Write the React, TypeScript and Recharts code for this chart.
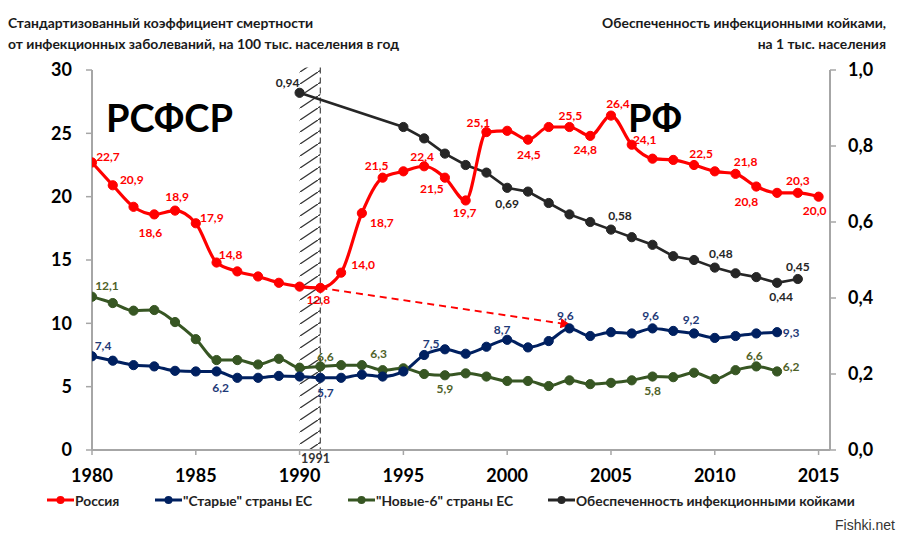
import React from "react";
import {
  ComposedChart, Line, XAxis, YAxis, ReferenceArea, ReferenceLine, Legend,
} from "recharts";

// ---------- DATA ----------
const years = [
  1980, 1981, 1982, 1983, 1984, 1985, 1986, 1987, 1988, 1989,
  1990, 1991, 1992, 1993, 1994, 1995, 1996, 1997, 1998, 1999,
  2000, 2001, 2002, 2003, 2004, 2005, 2006, 2007, 2008, 2009,
  2010, 2011, 2012, 2013, 2014, 2015,
];
const russia = [
  22.7, 20.9, 19.2, 18.6, 18.9, 17.9, 14.8, 14.1, 13.7, 13.2,
  12.9, 12.8, 14.0, 18.7, 21.5, 22.0, 22.4, 21.5, 19.7, 25.1,
  25.2, 24.5, 25.5, 25.5, 24.8, 26.4, 24.1, 23.0, 22.9, 22.5,
  22.0, 21.8, 20.8, 20.3, 20.3, 20.0,
];
const oldEU = [
  7.4, 7.05, 6.7, 6.6, 6.25, 6.2, 6.2, 5.7, 5.7, 5.85,
  5.8, 5.7, 5.7, 5.95, 5.8, 6.2, 7.5, 7.95, 7.6, 8.15,
  8.7, 8.1, 8.6, 9.6, 9.0, 9.3, 9.2, 9.6, 9.4, 9.2,
  8.85, 9.0, 9.2, 9.3,
];
const new6 = [
  12.1, 11.6, 11.0, 11.05, 10.1, 8.75, 7.1, 7.1, 6.75, 7.2,
  6.5, 6.6, 6.7, 6.7, 6.3, 6.45, 6.0, 5.9, 6.05, 5.8,
  5.45, 5.45, 5.05, 5.5, 5.2, 5.3, 5.5, 5.8, 5.75, 6.1,
  5.6, 6.3, 6.6, 6.2,
];
const bedYears = [
  1990, 1995, 1996, 1997, 1998, 1999, 2000, 2001, 2002, 2003,
  2004, 2005, 2006, 2007, 2008, 2009, 2010, 2011, 2012, 2013, 2014,
];
const beds = [
  0.94, 0.85, 0.82, 0.78, 0.75, 0.73, 0.69, 0.68, 0.65, 0.62,
  0.6, 0.58, 0.56, 0.54, 0.51, 0.5, 0.48, 0.465, 0.455, 0.44, 0.45,
];
const arrowFrom = { year: 1991, value: 12.8 };
const arrowTo = { year: 2003, value: 9.9 };

const xTicks = [1980, 1985, 1990, 1995, 2000, 2005, 2010, 2015];
const leftTicks = [0, 5, 10, 15, 20, 25, 30];
const rightTicks = [0, 0.2, 0.4, 0.6, 0.8, 1.0];

const seriesNames = {
  russia: "Россия",
  oldEU: "\"Старые\" страны ЕС",
  new6: "\"Новые-6\" страны ЕС",
  beds: "Обеспеченность инфекционными койками",
};

// label offsets (style only): year -> [dx, dy]
const russiaLabelPos: Record<number, [number, number]> = {
  1980: [16, -6], 1981: [19, -6], 1983: [-4, 18], 1984: [2, -14], 1985: [16, -6],
  1986: [14, -8], 1991: [-2, 12], 1992: [22, -8], 1993: [20, 9], 1994: [-6, -12],
  1996: [-2, -10], 1997: [-13, 11], 1998: [-1, 12], 1999: [-8, -10], 2001: [1, 15],
  2003: [1, -12], 2004: [-5, 14], 2005: [7, -12], 2006: [13, -5], 2009: [7, -12],
  2011: [10, -12], 2012: [-10, 15], 2014: [0, -12], 2015: [-4, 14],
};
const oldLabelPos: Record<number, [number, number]> = {
  1980: [11, -11], 1986: [4, 16], 1991: [5, 15], 1996: [7, -12], 2000: [-5, -10],
  2003: [-4, -13], 2007: [-2, -13], 2009: [-3, -14], 2013: [14, 0],
};
const newLabelPos: Record<number, [number, number]> = {
  1980: [15, -11], 1991: [5, -10], 1994: [-4, -17], 1997: [0, 13], 2007: [0, 14],
  2012: [-2, -11], 2013: [14, -5],
};
const bedLabelPos: Record<number, [number, number]> = {
  1990: [-12, -10], 2000: [0, 16], 2005: [9, -14], 2010: [6, -14], 2013: [4, 14], 2014: [0, -13],
};

// ---------- TABLE ----------
const data = years.map((y, i) => {
  const bi = bedYears.indexOf(y);
  return {
    year: y,
    russia: russia[i] ?? null,
    oldEU: oldEU[i] ?? null,
    new6: new6[i] ?? null,
    beds: bi >= 0 ? beds[bi] : null,
    arrow: y === arrowFrom.year ? arrowFrom.value : y === arrowTo.year ? arrowTo.value : null,
  };
});

const FONT = "Lato, 'Open Sans', sans-serif";
const C = {
  russia: "#ff0000",
  oldEU: "#002060",
  new6: "#375623",
  beds: "#262626",
  oldLbl: "#1f3a78",
  newLbl: "#4f6228",
  axis: "#a6a6a6",
};

function makeDot(color: string, lblColor: string, pos: Record<number, [number, number]>, dec: number) {
  return (props: any) => {
    const { cx, cy, payload, index, value } = props;
    if (cx == null || cy == null || value == null || isNaN(cy)) return <g key={`d${index}`} />;
    const off = pos[payload.year];
    return (
      <g key={`d${index}`}>
        <circle cx={cx} cy={cy} r={4.6} fill={color} stroke={color} strokeWidth={1} />
        {off && (
          <text
            x={cx + off[0]}
            y={cy + off[1]}
            textAnchor="middle"
            dominantBaseline="central"
            fontFamily={FONT}
            fontWeight={700}
            fontSize={12}
            fill={lblColor}
          >
            {Number(value).toFixed(dec).replace(".", ",")}
          </text>
        )}
      </g>
    );
  };
}

const legendItems = [
  { name: seriesNames.russia, color: C.russia, x: 47 },
  { name: seriesNames.oldEU, color: C.oldEU, x: 155 },
  { name: seriesNames.new6, color: C.new6, x: 348 },
  { name: seriesNames.beds, color: C.beds, x: 548 },
];

const LegendContent = () => (
  <div style={{ position: "relative", width: 900, height: 24 }}>
    {legendItems.map((it) => (
      <div
        key={it.name}
        style={{ position: "absolute", left: it.x, top: 0, display: "flex", alignItems: "center", height: 20 }}
      >
        <svg width={27} height={12} style={{ marginRight: 1 }}>
          <line x1={0} y1={6} x2={27} y2={6} stroke={it.color} strokeWidth={3} />
          <circle cx={13.5} cy={6} r={4} fill={it.color} />
        </svg>
        <span style={{ fontFamily: FONT, fontWeight: 700, fontSize: 13.8, color: "#222", whiteSpace: "nowrap" }}>
          {it.name}
        </span>
      </div>
    ))}
  </div>
);

const textStyle: React.CSSProperties = {
  position: "absolute",
  fontFamily: FONT,
  fontWeight: 700,
  fontSize: 13.9,
  color: "#1a1a1a",
  whiteSpace: "nowrap",
  lineHeight: "21px",
};

export default function App() {
  return (
    <div style={{ position: "absolute", left: 0, top: 0, width: 900, height: 538, background: "#fff" }}>
      <svg width={0} height={0} style={{ position: "absolute" }}>
        <defs>
          <pattern id="hatch" patternUnits="userSpaceOnUse" x={300} y={0} width={18} height={12}>
            <line x1={0} y1={12} x2={18} y2={0} stroke="#333" strokeWidth={1.3} />
          </pattern>
          <marker id="arrowRed" viewBox="0 0 10 10" refX={9} refY={5} markerWidth={5} markerHeight={5} orient="auto" markerUnits="strokeWidth">
            <path d="M0,0 L10,5 L0,10 z" fill={C.russia} />
          </marker>
        </defs>
      </svg>

      <ComposedChart
        width={900}
        height={538}
        data={data}
        margin={{ top: 70, right: 0, bottom: 34, left: 0 }}
      >
        <XAxis
          dataKey="year"
          type="number"
          domain={[1980, 2015.55]}
          ticks={xTicks}
          allowDataOverflow
          height={30}
          tickSize={5}
          tickMargin={14}
          axisLine={{ stroke: C.axis, strokeWidth: 2 }}
          tickLine={{ stroke: C.axis, strokeWidth: 1.5 }}
          tick={{ fill: "#000", fontFamily: FONT, fontWeight: 700, fontSize: 18 }}
        />
        <YAxis
          yAxisId="left"
          orientation="left"
          domain={[0, 30]}
          ticks={leftTicks}
          width={92}
          tickSize={6}
          tickMargin={14}
          axisLine={{ stroke: C.axis, strokeWidth: 2 }}
          tickLine={{ stroke: C.axis, strokeWidth: 1.5 }}
          tick={{ fill: "#000", fontFamily: FONT, fontWeight: 700, fontSize: 18 }}
        />
        <YAxis
          yAxisId="right"
          orientation="right"
          domain={[0, 1]}
          ticks={rightTicks}
          width={70}
          tickSize={6}
          tickMargin={12}
          tickFormatter={(v: number) => v.toFixed(1).replace(".", ",")}
          axisLine={{ stroke: C.axis, strokeWidth: 2 }}
          tickLine={{ stroke: C.axis, strokeWidth: 1.5 }}
          tick={{ fill: "#000", fontFamily: FONT, fontWeight: 700, fontSize: 18 }}
        />
        <ReferenceArea
          yAxisId="left"
          x1={1990}
          x2={1991}
          y1={0}
          y2={30.2}
          ifOverflow="visible"
          fill="url(#hatch)"
          fillOpacity={1}
          stroke="none"
        />
        <ReferenceLine
          yAxisId="left"
          stroke="#555"
          strokeWidth={1.3}
          strokeDasharray="6 4"
          segment={[{ x: 1991, y: 30.2 }, { x: 1991, y: -0.6 }]}
          ifOverflow="visible"
        />
        <Legend
          verticalAlign="bottom"
          content={<LegendContent />}
          wrapperStyle={{ position: "absolute", left: 0, top: 490, width: 900, height: 24 }}
        />
        <Line
          yAxisId="right"
          dataKey="beds"
          name={seriesNames.beds}
          type="linear"
          stroke={C.beds}
          strokeWidth={2.6}
          connectNulls
          isAnimationActive={false}
          dot={makeDot(C.beds, C.beds, bedLabelPos, 2)}
          activeDot={false}
        />
        <Line
          yAxisId="left"
          dataKey="new6"
          name={seriesNames.new6}
          type="monotone"
          stroke={C.new6}
          strokeWidth={3}
          isAnimationActive={false}
          dot={makeDot(C.new6, C.newLbl, newLabelPos, 1)}
          activeDot={false}
        />
        <Line
          yAxisId="left"
          dataKey="oldEU"
          name={seriesNames.oldEU}
          type="monotone"
          stroke={C.oldEU}
          strokeWidth={3}
          isAnimationActive={false}
          dot={makeDot(C.oldEU, C.oldLbl, oldLabelPos, 1)}
          activeDot={false}
        />
        <Line
          yAxisId="left"
          dataKey="arrow"
          type="linear"
          stroke={C.russia}
          strokeWidth={2}
          strokeDasharray="7 5"
          connectNulls
          legendType="none"
          isAnimationActive={false}
          dot={false}
          activeDot={false}
          markerEnd="url(#arrowRed)"
        />
        <Line
          yAxisId="left"
          dataKey="russia"
          name={seriesNames.russia}
          type="monotone"
          stroke={C.russia}
          strokeWidth={3.2}
          isAnimationActive={false}
          dot={makeDot(C.russia, C.russia, russiaLabelPos, 1)}
          activeDot={false}
        />
      </ComposedChart>

      {/* titles and annotations */}
      <div style={{ ...textStyle, left: 8, top: 12 }}>
        Стандартизованный коэффициент смертности
        <br />
        от инфекционных заболеваний, на 100 тыс. населения в год
      </div>
      <div style={{ ...textStyle, right: 14, top: 12, textAlign: "right" }}>
        Обеспеченность инфекционными койками,
        <br />
        на 1 тыс. населения
      </div>
      <div style={{ position: "absolute", left: 106, top: 94, fontFamily: FONT, fontWeight: 700, fontSize: 38, color: "#000", lineHeight: "46px" }}>
        РСФСР
      </div>
      <div style={{ position: "absolute", left: 628, top: 100, fontFamily: FONT, fontWeight: 700, fontSize: 38, color: "#000", lineHeight: "34px" }}>
        РФ
      </div>
      <div style={{ position: "absolute", left: 301, top: 451, fontFamily: FONT, fontWeight: 700, fontSize: 12.5, color: "#333", lineHeight: "16px" }}>
        1991
      </div>
      <div style={{ position: "absolute", left: 835, top: 516, fontFamily: "'Liberation Sans', Arial, sans-serif", fontSize: 14, color: "#333", lineHeight: "18px" }}>
        Fishki.net
      </div>
    </div>
  );
}
